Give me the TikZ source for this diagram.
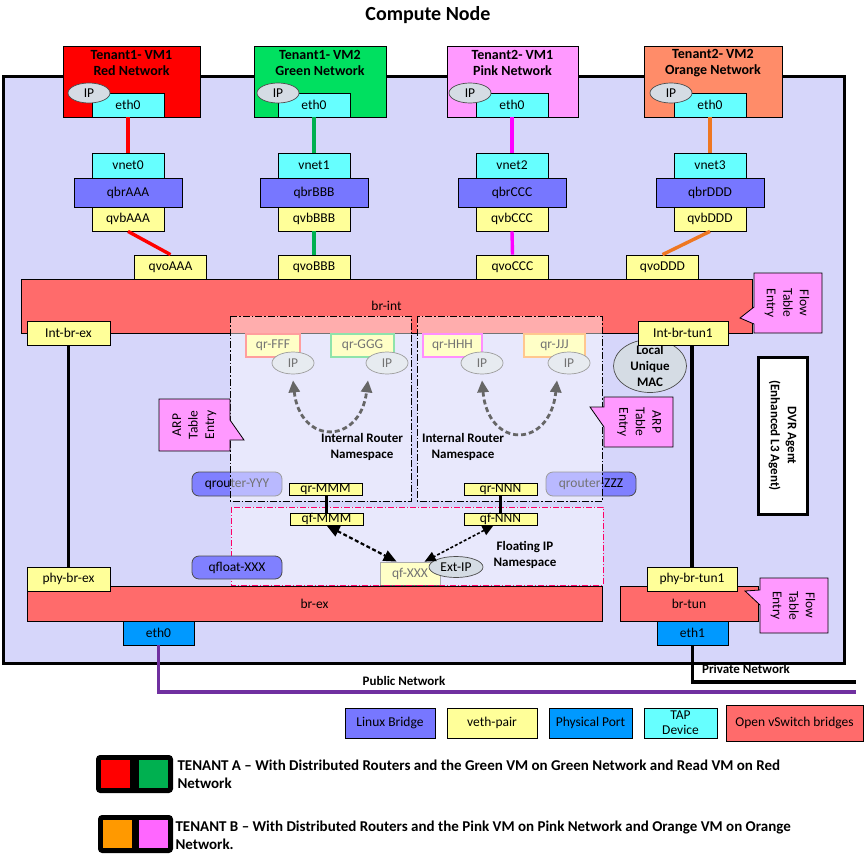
\documentclass[tikz,border=0pt]{standalone}
\usepackage{fontspec}
\setmainfont{Carlito}
\usetikzlibrary{shapes.geometric,arrows.meta,calc}
\definecolor{bgc}{HTML}{D6D6FA}
\definecolor{vmred}{HTML}{FF0000}
\definecolor{vmgreen}{HTML}{00E060}
\definecolor{vmpink}{HTML}{FF99FF}
\definecolor{vmorange}{HTML}{FF8C69}
\definecolor{lred}{HTML}{FF0000}
\definecolor{lgreen}{HTML}{00B050}
\definecolor{lpink}{HTML}{FF00FF}
\definecolor{lorange}{HTML}{EE7722}
\definecolor{tapc}{HTML}{66FFFF}
\definecolor{lbc}{HTML}{7777FF}
\definecolor{vethc}{HTML}{FFFF99}
\definecolor{physc}{HTML}{0099FF}
\definecolor{ovsc}{HTML}{FF6B6B}
\definecolor{ipc}{HTML}{D5DCE4}
\definecolor{calc}{HTML}{FF99FF}
\definecolor{qrc}{HTML}{8080FF}
\definecolor{pubc}{HTML}{7030A0}
\definecolor{nsred}{HTML}{FF0066}
\definecolor{brdF}{HTML}{FF5050}
\definecolor{brdG}{HTML}{33CC66}
\definecolor{brdH}{HTML}{FF33FF}
\definecolor{brdJ}{HTML}{FF9933}
\definecolor{legA}{HTML}{FF0000}
\definecolor{legB}{HTML}{00B050}
\definecolor{legC}{HTML}{FF9900}
\definecolor{legD}{HTML}{FF66FF}
\begin{document}
\begin{tikzpicture}[x=1pt,y=-1pt]
\tikzset{
  lab/.style={font=\fontsize{13.5}{16}\selectfont},
  bl/.style={font=\bfseries\fontsize{13}{16}\selectfont},
  vmt/.style={font=\bfseries\fontsize{14}{16}\selectfont, align=center},
  bx/.style={draw=black, line width=0.8pt, inner sep=0pt, lab},
  wh/.style 2 args={minimum width=#1pt, minimum height=#2pt},
  ipst/.style={ellipse, draw=black!70, line width=0.7pt, fill=ipc, inner sep=0pt, lab},
  link/.style={line width=3.4pt},
  blink/.style={line width=3.4pt, draw=black},
  ns/.style={draw=black, line width=1pt, dash pattern=on 7pt off 2pt on 1.5pt off 2pt, fill=white, fill opacity=0.45},
  fns/.style={draw=nsred, line width=0.8pt, dash pattern=on 6pt off 2pt on 1pt off 2pt, fill=white, fill opacity=0.45},
  callout/.style={draw=black, line width=0.8pt, fill=calc},
  rbox/.style={draw=black!70, rounded corners=7pt, fill=qrc, line width=0.8pt, inner sep=0pt, lab},
  garrow/.style={draw=black!60, line width=2.8pt, dash pattern=on 5pt off 3pt,
     {Triangle[length=12pt,width=11pt]}-{Triangle[length=12pt,width=11pt]}},
  rtxt/.style={rotate=#1, align=center, font=\fontsize{13.5}{16.5}\selectfont},
  legt/.style={anchor=west, align=left, font=\bfseries\fontsize{15}{18}\selectfont},
}
\useasboundingbox (0,0) rectangle (865,854);

% title
\node[font=\bfseries\fontsize{20}{22}\selectfont] (title) at (428,15) {Compute Node};

% outer box
\draw[line width=3pt, fill=bgc] (3,76) rectangle (844,663);

% VMs
\node[bx, fill=vmred, wh={137}{71}] (vm1) at (131.5,81.5) {};
\node[vmt] (vm1t) at (131.5,63) {Tenant1- VM1\\Red Network};
\node[bx, fill=tapc, wh={72}{24}] (e1) at (128,105) {eth0};
\node[ipst, wh={42}{20}] (ip1) at (89,93) {IP};

\node[bx, fill=vmgreen, wh={132}{71}] (vm2) at (320,81.5) {};
\node[vmt] (vm2t) at (320,63) {Tenant1- VM2\\Green Network};
\node[bx, fill=tapc, wh={72}{24}] (e2) at (314,105) {eth0};
\node[ipst, wh={42}{20}] (ip2) at (278,93) {IP};

\node[bx, fill=vmpink, wh={131}{71}] (vm3) at (512.5,81.5) {};
\node[vmt] (vm3t) at (512.5,63) {Tenant2- VM1\\Pink Network};
\node[bx, fill=tapc, wh={72}{24}] (e3) at (512,105) {eth0};
\node[ipst, wh={42}{20}] (ip3) at (470,93) {IP};

\node[bx, fill=vmorange, wh={138}{71}] (vm4) at (713,81.5) {};
\node[vmt] (vm4t) at (713,63) {Tenant2- VM2\\Orange Network};
\node[bx, fill=tapc, wh={72}{24}] (e4) at (710,105) {eth0};
\node[ipst, wh={42}{20}] (ip4) at (671,93) {IP};

% vnet / qbr / qvb
\foreach \n/\x/\c in {0/128/AAA,1/314/BBB,2/512/CCC,3/710/DDD}{
  \node[bx, fill=tapc, wh={72}{25}] (v\n) at (\x,165.5) {vnet\n};
  \node[bx, fill=lbc, wh={108}{29}] (b\n) at (\x,192.5) {qbr\c};
  \node[bx, fill=vethc, wh={72}{24}] (q\n) at (\x,219) {qvb\c};
}
\node[bx, fill=vethc, wh={72}{24}] (o0) at (170.5,267) {qvoAAA};
\node[bx, fill=vethc, wh={72}{24}] (o1) at (314,267) {qvoBBB};
\node[bx, fill=vethc, wh={72}{24}] (o2) at (512.5,267) {qvoCCC};
\node[bx, fill=vethc, wh={72}{24}] (o3) at (662.5,267) {qvoDDD};

\draw[link, draw=lred] (e1.south) -- (v0.north);
\draw[link, draw=lred] (q0.south) -- (o0.north);
\draw[link, draw=lgreen] (e2.south) -- (v1.north);
\draw[link, draw=lgreen] (q1.south) -- (o1.north);
\draw[link, draw=lpink] (e3.south) -- (v2.north);
\draw[link, draw=lpink] (q2.south) -- (o2.north);
\draw[link, draw=lorange] (e4.south) -- (v3.north);
\draw[link, draw=lorange] (q3.south) -- (o3.north);

% br-int
\node[bx, fill=ovsc, wh={731}{54}] (brint) at (386.5,306) {br-int};
\node[ipst, wh={73}{53}] (mac) at (650,366) {};
\node[bl, align=center] (mact) at (mac) {Local\\Unique\\MAC};
\node[bx, fill=vethc, wh={83}{24}] (intex) at (68.5,333) {Int-br-ex};
\node[bx, fill=vethc, wh={90}{24}] (inttun) at (683,333) {Int-br-tun1};

% qrouter boxes (under overlay)
\node[rbox, wh={90}{24}] (qry) at (237,484) {qrouter-YYY};
\node[rbox, wh={90}{24}] (qrz) at (591,484) {qrouter-ZZZ};

% faded elements
\node[bx, draw=brdF, line width=1.3pt, fill=vethc, wh={54}{23}] (qrf) at (273,345.5) {qr-FFF};
\node[bx, draw=brdG, line width=1.3pt, fill=vethc, wh={63}{23}] (qrg) at (362.5,345.5) {qr-GGG};
\node[bx, draw=brdH, line width=1.3pt, fill=vethc, wh={59}{23}] (qrh) at (452.5,345.5) {qr-HHH};
\node[bx, draw=brdJ, line width=1.3pt, fill=vethc, wh={61}{23}] (qrj) at (554.5,345.5) {qr-JJJ};
\node[ipst, wh={42}{22}] (ipf) at (293,363) {IP};
\node[ipst, wh={42}{22}] (ipg) at (387,363) {IP};
\node[ipst, wh={42}{22}] (iph) at (482,363) {IP};
\node[ipst, wh={42}{22}] (ipj) at (569,363) {IP};
\node[bx, draw=black!60, fill=vethc, wh={60}{23}] (qfx) at (410,573.5) {qf-XXX};

% namespace overlays
\path[ns] (230,316) rectangle (411,501);
\path[ns] (417,316) rectangle (602,501);
\path[fns] (231,507) rectangle (603,585);

% curved arrows in router namespaces
\draw[garrow] ($(ipf.south)+(0,6)$) .. controls ($(ipf.south)+(7,71)$) and ($(ipg.south)+(-27,71)$) .. ($(ipg.south)+(-19,6)$);
\draw[garrow] ($(iph.south)+(0,6)$) .. controls ($(iph.south)+(6,75)$) and ($(ipj.south)+(-19,75)$) .. ($(ipj.south)+(-12,6)$);

\node[bl, align=center] (irn1) at (362,447) {Internal Router\\Namespace};
\node[bl, align=center] (irn2) at (463,447) {Internal Router\\Namespace};

% qr / qf ports
\node[bx, fill=vethc, wh={73}{12}] (qrm) at (325.5,489) {qr-MMM};
\node[bx, fill=vethc, wh={73}{12}] (qfm) at (326.5,519) {qf-MMM};
\node[bx, fill=vethc, wh={73}{12}] (qrn) at (500.5,489) {qr-NNN};
\node[bx, fill=vethc, wh={73}{12}] (qfn) at (500.5,519) {qf-NNN};
\draw[blink] (qrm.south -| qfm.south) -- (qfm.north);
\draw[blink] (qrn.south) -- (qfn.north);

\node[ipst, wh={54}{21}] (extip) at (456,567) {Ext-IP};
\draw[line width=2.2pt, dash pattern=on 4pt off 2.5pt, {Triangle[length=13pt,width=11pt]}-{Triangle[length=13pt,width=11pt]}] (qfm.south) -- ([xshift=17pt]qfx.north west);
\draw[line width=1.6pt, dash pattern=on 3pt off 2pt, {Triangle[length=11pt,width=10pt]}-{Triangle[length=11pt,width=10pt]}] ([xshift=-7pt]qfn.south) -- ([xshift=45pt]qfx.north west);
\node[bl, align=center] (fipn) at (525,555) {Floating IP\\Namespace};

\node[rbox, wh={90}{23}] (qfl) at (237,567.5) {qfloat-XXX};

% br-ex / br-tun
\node[bx, fill=ovsc, wh={575}{35}] (brex) at (314.5,603.5) {br-ex};
\node[bx, fill=ovsc, wh={138}{35}] (brtun) at (689,603.5) {br-tun};
\node[bx, fill=vethc, wh={83}{24}] (phyex) at (68.5,579) {phy-br-ex};
\node[bx, fill=vethc, wh={90}{24}] (phytun) at (692,579) {phy-br-tun1};
\node[bx, fill=physc, wh={71}{24}] (eth0p) at (158.5,633) {eth0};
\node[bx, fill=physc, wh={71}{24}] (eth1p) at (692.5,633) {eth1};

\draw[blink] (intex.south) -- (phyex.north);
\draw[blink] (phytun.north |- inttun.south) -- (phytun.north);

% callouts
\draw[callout] (754,273) -- (822,273) -- (822,333) -- (754,333) -- (754,324) -- (740,318) -- (754,307) -- cycle;
\node[rtxt=-90] (fte1) at (787,303) {Flow\\Table\\Entry};
\draw[callout] (760,578) -- (828,578) -- (828,633) -- (760,633) -- (760,605) -- (745,591) -- (760,590) -- cycle;
\node[rtxt=-90] (fte2) at (793,605.5) {Flow\\Table\\Entry};
\draw[callout] (159,399) -- (230,399) -- (230,420) -- (244,440) -- (230,440) -- (230,451) -- (159,451) -- cycle;
\node[rtxt=90] (arp1) at (194.5,425) {ARP\\Table\\Entry};
\draw[callout] (604,397) -- (673,397) -- (673,447) -- (604,447) -- (604,427) -- (590,407) -- (604,407) -- cycle;
\node[rtxt=-90] (arp2) at (639,422) {ARP\\Table\\Entry};

% DVR agent
\node[draw=black, line width=3pt, fill=white, wh={49}{157}] (dvr) at (782.5,435.5) {};
\node[rotate=-90, align=center, font=\bfseries\fontsize{13}{17}\selectfont] (dvrt) at (dvr) {DVR Agent\\(Enhanced L3 Agent)};

% networks
\coordinate (pubend) at (856,692);
\coordinate (privend) at (856,682);
\draw[line width=3.2pt, draw=pubc] (eth0p.south) |- (pubend);
\draw[line width=3.2pt, draw=black] (eth1p.south) |- (privend);
\node[bl] (pubt) at (404,681) {Public Network};
\node[bl] (privt) at (746,669) {Private Network};

% legend
\node[bx, fill=lbc, wh={90}{30}] (lg1) at (390,723) {Linux Bridge};
\node[bx, fill=vethc, wh={90}{30}] (lg2) at (492,723) {veth-pair};
\node[bx, fill=physc, wh={83}{30}] (lg3) at (590.5,723) {Physical Port};
\node[bx, fill=tapc, wh={73}{30}, align=center, font=\fontsize{13.5}{15}\selectfont] (lg4) at (680.5,723) {TAP\\Device};
\node[bx, fill=ovsc, wh={137}{36}] (lg5) at (794.5,723) {Open vSwitch bridges};

\fill[black, rounded corners=4pt] (96,755) rectangle (173,793);
\fill[legA] (101,760) rectangle (130,788);
\fill[legB] (139,760) rectangle (168,788);
\node[legt] (tenA) at (174,774) {TENANT A -- With Distributed Routers and the Green VM on Green Network and Read VM on Red\\Network};
\fill[black, rounded corners=4pt] (98,815) rectangle (173,853);
\fill[legC] (103,820) rectangle (132,848);
\fill[legD] (139,820) rectangle (168,848);
\node[legt] (tenB) at (172,835) {TENANT B -- With Distributed Routers and the Pink VM on Pink Network and Orange VM on Orange\\Network.};
\end{tikzpicture}
\end{document}
